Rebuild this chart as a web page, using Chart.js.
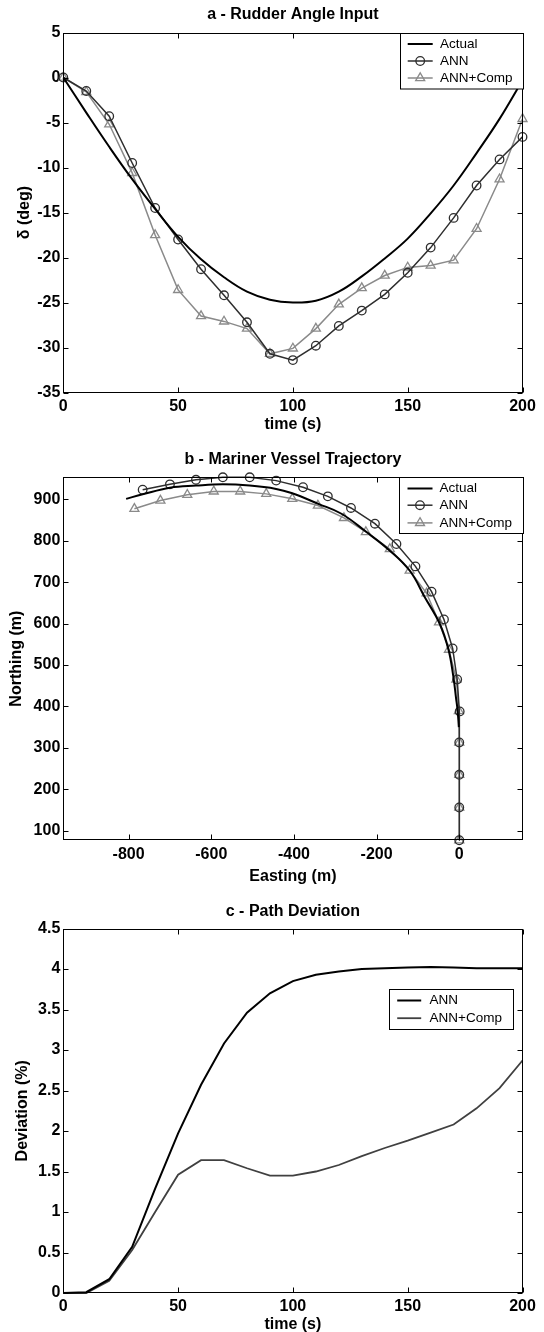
<!DOCTYPE html>
<html><head><meta charset="utf-8">
<script src="https://cdn.jsdelivr.net/npm/chart.js@4.4.1/dist/chart.umd.min.js"></script>
<style>
html,body{margin:0;padding:0;background:#fff;overflow:hidden;width:544px;height:1332px;}
canvas{position:absolute;left:0;}
</style></head><body>
<canvas id="ca" width="544" height="436" style="top:0px"></canvas>
<canvas id="cb" width="544" height="450" style="top:436px"></canvas>
<canvas id="cc" width="544" height="446" style="top:886px"></canvas>
<script>
// ---------- data ----------
const timeA = [0,10,20,30,40,50,60,70,80,90,100,110,120,130,140,150,160,170,180,190,200];
const rudderActual = [0,-3.9,-7.7,-11.3,-14.6,-17.7,-20.2,-22.2,-23.8,-24.7,-25.0,-24.8,-23.8,-22.1,-20.1,-17.9,-15.1,-12.0,-8.4,-4.6,-0.3];
const rudderANN = [0,-1.5,-4.3,-9.5,-14.5,-18.0,-21.3,-24.2,-27.2,-30.7,-31.4,-29.8,-27.6,-25.9,-24.1,-21.7,-18.9,-15.6,-12.0,-9.1,-6.6];
const rudderComp = [0,-1.6,-5.2,-10.6,-17.5,-23.6,-26.5,-27.1,-27.9,-30.7,-30.1,-27.9,-25.2,-23.4,-22.0,-21.1,-20.9,-20.3,-16.8,-11.3,-4.6];

const eastActual = [-1,-4,-8,-14,-26,-47,-83,-120,-168,-226,-285,-341,-406,-443,-507,-572,-637,-700,-766,-806];
const northActual = [350,390,422,470,537,599,663,728,776,822,865,889,915,925,933,936,933,928,912,901];
const eastANN = [0,0,0,0,1,-5,-16,-37,-67,-106,-152,-204,-262,-318,-378,-443,-507,-572,-637,-700,-766];
const northANN = [77,156,235,313,388,465,540,610,677,738,792,841,879,907,929,945,953,953,947,936,923];
const eastComp = [0,0,0,0,-1,-7,-25,-49,-79,-120,-168,-226,-279,-342,-404,-467,-530,-594,-658,-723,-786];
const northComp = [77,156,235,313,389,465,537,603,673,728,780,821,855,885,901,913,919,919,911,897,877];

const timeC = [0,10,20,30,40,50,60,70,80,90,100,110,120,130,140,150,160,170,180,190,200];
const devANN = [0,0.01,0.17,0.57,1.29,1.97,2.57,3.08,3.46,3.70,3.85,3.93,3.97,4.00,4.01,4.02,4.025,4.02,4.01,4.01,4.01];
const devComp = [0,0,0.15,0.53,1.0,1.46,1.64,1.64,1.54,1.45,1.45,1.50,1.58,1.69,1.79,1.88,1.98,2.08,2.28,2.53,2.87];

const ticksAX = [0,50,100,150,200];
const ticksAY = [-35,-30,-25,-20,-15,-10,-5,0,5];
const ticksBX = [-800,-600,-400,-200,0];
const ticksBY = [100,200,300,400,500,600,700,800,900];
const ticksCX = [0,50,100,150,200];
const ticksCY = [0,0.5,1,1.5,2,2.5,3,3.5,4,4.5];

// ---------- helpers ----------
const FONT = "'Liberation Sans', Arial, Helvetica, sans-serif";
Chart.defaults.font.family = FONT;
Chart.defaults.color = '#000';
const xy = (xs, ys) => xs.map((v,i)=>({x:v, y:ys[i]}));

function markerPath(ctx, style, cx, cy, r) {
  ctx.beginPath();
  if (style === 'circle') {
    ctx.arc(cx, cy, r, 0, Math.PI*2);
  } else {
    const h = r * 1.5;
    const s = h / 0.866;
    ctx.moveTo(cx, cy - r);
    ctx.lineTo(cx + s/2, cy - r + h);
    ctx.lineTo(cx - s/2, cy - r + h);
    ctx.closePath();
  }
}

const boxPlugin = {
  id: 'mlBox',
  afterDraw(chart, args, opts) {
    const {ctx, chartArea:a, scales:{x, y}} = chart;
    const L = Math.round(a.left)+0.5, R = Math.round(a.right)-0.5, T = Math.round(a.top)+0.5, B = Math.round(a.bottom)-0.5;
    ctx.save();
    ctx.strokeStyle = '#000'; ctx.lineWidth = 1;
    ctx.beginPath();
    const tl = 5;
    x.ticks.forEach(t => {
      const p = Math.round(x.getPixelForValue(t.value)) + 0.5;
      ctx.moveTo(p, B); ctx.lineTo(p, B - tl);
      ctx.moveTo(p, T); ctx.lineTo(p, T + tl);
    });
    y.ticks.forEach(t => {
      const p = Math.round(y.getPixelForValue(t.value)) + 0.5;
      ctx.moveTo(L, p); ctx.lineTo(L + tl, p);
      ctx.moveTo(R, p); ctx.lineTo(R - tl, p);
    });
    ctx.stroke();
    ctx.strokeRect(L, T, R - L, B - T);
    // legend
    const lg = opts.legend;
    if (lg) {
      const bx = Math.round(a.right - lg.right - lg.w) + 0.5;
      const by = Math.round(a.top + lg.top) + 0.5;
      ctx.fillStyle = '#fff';
      ctx.fillRect(bx, by, lg.w, lg.h);
      ctx.strokeStyle = '#000'; ctx.lineWidth = 1;
      ctx.strokeRect(bx, by, lg.w, lg.h);
      chart.data.datasets.forEach((ds, i) => {
        const yy = by + lg.rows[i];
        const x0 = bx + lg.lx0, x1 = bx + lg.lx1;
        ctx.strokeStyle = ds.borderColor; ctx.lineWidth = ds.borderWidth;
        ctx.beginPath(); ctx.moveTo(x0, yy); ctx.lineTo(x1, yy); ctx.stroke();
        if (ds.pointRadius > 0) {
          ctx.strokeStyle = ds.pointBorderColor; ctx.lineWidth = ds.pointBorderWidth;
          markerPath(ctx, ds.pointStyle, (x0+x1)/2, yy, ds.pointRadius);
          ctx.stroke();
        }
        ctx.fillStyle = '#000';
        ctx.font = '13.5px ' + FONT;
        ctx.textBaseline = 'middle'; ctx.textAlign = 'left';
        ctx.fillText(ds.label, bx + lg.tx, yy);
      });
    }
    ctx.restore();
  }
};

function lineDs(label, data, color, width, style, tension) {
  return {
    label, data, showLine: true, borderColor: color, borderWidth: width, tension: tension || 0,
    pointStyle: style || 'circle', pointRadius: style ? (style === 'triangle' ? 5.2 : 4.3) : 0, pointHoverRadius: 0,
    pointBorderColor: color, pointBackgroundColor: 'rgba(255,255,255,0)', pointBorderWidth: 1.3,
    clip: false, fill: false
  };
}

function axis(min, max, tickArr, title, isX, sizeFit, tickPad, titlePad) {
  return {
    type: 'linear', min, max, position: isX ? 'bottom' : 'left',
    afterBuildTicks: s => { s.ticks = tickArr.map(v => ({value: v})); },
    afterFit: s => { if (isX) s.height = sizeFit; else s.width = sizeFit; },
    grid: {display: false, drawTicks: false}, border: {display: false},
    ticks: {padding: tickPad, font: {size: 16, weight: 'bold'}, color: '#000', maxRotation: 0, autoSkip: false,
      callback: v => String(v)},
    title: {display: true, text: title, color: '#000', font: {size: 16, weight: 'bold'}, padding: titlePad}
  };
}

function makeChart(id, datasets, title, titlePad, xs, ys, legend) {
  return new Chart(document.getElementById(id), {
    type: 'scatter',
    data: {datasets},
    options: {
      responsive: false, animation: false, events: [], devicePixelRatio: 1,
      layout: {padding: {left: 0, right: 21.5, top: 0, bottom: 0}},
      plugins: {
        legend: {display: false}, tooltip: {enabled: false},
        title: {display: true, text: title, color: '#000', fullSize: false, font: {size: 16, weight: 'bold'}, padding: titlePad},
        mlBox: {legend}
      },
      scales: {x: xs, y: ys}
    },
    plugins: [boxPlugin]
  });
}

// ---------- panel a ----------
makeChart('ca', [
    lineDs('Actual', xy(timeA, rudderActual), '#000000', 2, null, 0.4),
    lineDs('ANN', xy(timeA, rudderANN), '#2e2e2e', 1.5, 'circle'),
    lineDs('ANN+Comp', xy(timeA, rudderComp), '#8a8a8a', 1.5, 'triangle')
  ],
  'a - Rudder Angle Input', {top: 5.1, bottom: 8.2},
  axis(0, 200, ticksAX, 'time (s)', true, 43.5, 4.6, {top: 0, bottom: 1.4}),
  axis(-35, 5, ticksAY, 'δ (deg)', false, 63.3, 3, {top: 15, bottom: 0}),
  {w: 123, h: 55.5, right: 0, top: 0, rows: [10.5, 27.5, 44.5], lx0: 7.2, lx1: 32.2, tx: 39.5}
);

// ---------- panel b ----------
makeChart('cb', [
    lineDs('Actual', xy(eastActual, northActual), '#000000', 2, null, 0.4),
    lineDs('ANN', xy(eastANN, northANN), '#2e2e2e', 1.5, 'circle'),
    lineDs('ANN+Comp', xy(eastComp, northComp), '#8a8a8a', 1.5, 'triangle')
  ],
  'b - Mariner Vessel Trajectory', {top: 14.4, bottom: 7.7},
  axis(-958, 153, ticksBX, 'Easting (m)', true, 46, 5.4, {top: 0, bottom: 0}),
  axis(77.6, 953, ticksBY, 'Northing (m)', false, 63.3, 3, {top: 7, bottom: 0}),
  {w: 124, h: 56, right: 0, top: 0, rows: [11, 27.7, 45.4], lx0: 8, lx1: 33, tx: 40}
);

// ---------- panel c ----------
makeChart('cc', [
    lineDs('ANN', xy(timeC, devANN), '#000000', 2, null, 0),
    lineDs('ANN+Comp', xy(timeC, devComp), '#404040', 1.8, null, 0)
  ],
  'c - Path Deviation', {top: 16.1, bottom: 7.2},
  axis(0, 200, ticksCX, 'time (s)', true, 39, 4.1, {top: 0, bottom: -2.6}),
  axis(0, 4.5, ticksCY, 'Deviation (%)', false, 63.3, 3, {top: 13, bottom: 0}),
  {w: 124, h: 40, right: 10, top: 60.5, rows: [11, 28.7], lx0: 7.7, lx1: 31.7, tx: 40}
);
</script>
</body></html>
